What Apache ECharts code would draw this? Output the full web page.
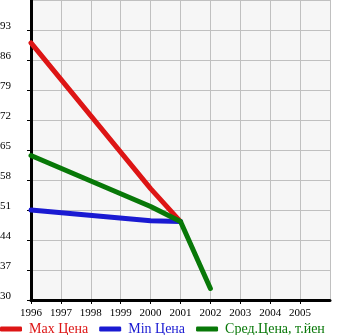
<!DOCTYPE html>
<html>
<head>
<meta charset="utf-8">
<script src="https://cdn.jsdelivr.net/npm/echarts@6/dist/echarts.min.js"></script>
<style>
html, body { margin: 0; padding: 0; background: #fff; }
#chart { width: 345px; height: 335px; }
</style>
</head>
<body>
<div id="chart"></div>
<script>
// Price history by model year (thousand yen)
const years = [1996, 1997, 1998, 1999, 2000, 2001, 2002];
const maxPrice = [90, null, null, null, 56, 48.3, null];
const minPrice = [51, null, null, null, 48.5, 48.3, null];
const avgPrice = [63.7, null, null, null, 51.8, 48.3, 32.7];
const seriesNames = ['Max Цена', 'Min Цена', 'Сред.Цена, т.йен'];
const yTicks = [30, 37, 44, 51, 58, 65, 72, 79, 86, 93];

const colors = ['#dd1515', '#1a1ad2', '#087808'];
const font = '"Liberation Serif", "DejaVu Serif", serif';

function pairs(vals) {
  return years.map((y, i) => [y, vals[i]]);
}

const chart = echarts.init(document.getElementById('chart'));
chart.setOption({
  animation: false,
  backgroundColor: '#ffffff',
  textStyle: { fontFamily: font },
  grid: {
    left: 31, top: 0, width: 299, height: 300,
    outerBoundsMode: 'none',
    show: true, backgroundColor: '#f6f6f6', borderWidth: 0
  },
  xAxis: {
    type: 'value', min: 1996, max: 2006, interval: 1,
    axisLine: { show: true, onZero: false, lineStyle: { color: '#000', width: 3 } },
    axisTick: { show: true, length: 4, lineStyle: { color: '#000', width: 1 } },
    axisLabel: {
      color: '#000', fontSize: 11, fontFamily: font, margin: 8,
      showMaxLabel: false,
      formatter: v => String(v)
    },
    splitLine: { show: true, lineStyle: { color: '#c0c0c0', width: 1 } }
  },
  yAxis: {
    type: 'value', min: 30, max: 100, interval: 7,
    axisLine: { show: true, onZero: false, lineStyle: { color: '#000', width: 3 } },
    axisTick: { show: true, length: 4, lineStyle: { color: '#000', width: 1 } },
    axisLabel: {
      color: '#000', fontSize: 11, fontFamily: font, lineHeight: 8,
      showMaxLabel: false,
      align: 'left', verticalAlign: 'bottom', margin: 31,
      formatter: v => (yTicks.indexOf(v) >= 0 ? String(v) : '')
    },
    splitLine: { show: true, lineStyle: { color: '#c0c0c0', width: 1 } }
  },
  legend: {
    left: 0, top: 322, padding: 0, itemGap: 11,
    itemWidth: 22, itemHeight: 5,
    icon: 'roundRect',
    textStyle: { fontFamily: font, fontSize: 14, padding: [0, 0, 0, 2] },
    data: seriesNames.map((n, i) => ({ name: n, textStyle: { color: colors[i] } }))
  },
  series: [maxPrice, minPrice, avgPrice].map((vals, i) => ({
    name: seriesNames[i],
    type: 'line',
    data: pairs(vals),
    connectNulls: true,
    showSymbol: false,
    symbol: 'none',
    color: colors[i],
    lineStyle: { width: 5, color: colors[i], cap: 'round', join: 'round' },
    z: 2 + i
  }))
});
</script>
</body>
</html>
